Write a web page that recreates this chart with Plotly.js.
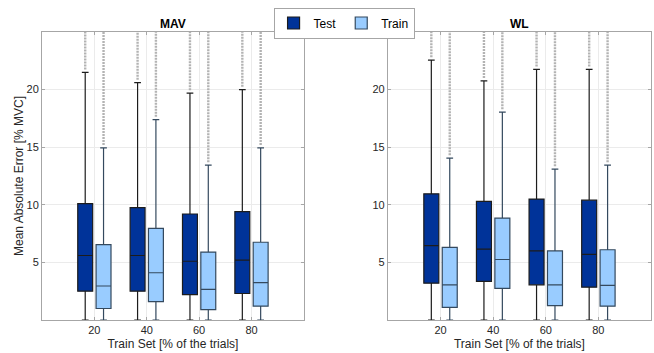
<!DOCTYPE html>
<html>
<head>
<meta charset="utf-8">
<script src="https://cdn.plot.ly/plotly-3.0.1.min.js"></script>
<style>html,body{margin:0;padding:0;background:#fff;}#chart{width:654px;height:353px;}</style>
</head>
<body>
<div id="chart"></div>
<script>
// ---- data ----
const trainSet = [20, 40, 60, 80];

// MAV panel
const mavTestQ1 = [2.5, 2.5, 2.2, 2.3];
const mavTestMedian = [5.6, 5.6, 5.1, 5.2];
const mavTestQ3 = [10.1, 9.75, 9.2, 9.4];
const mavTestLow = [0, 0, 0, 0];
const mavTestUp = [21.5, 20.6, 19.7, 20.0];
const mavTestOutMax = [26, 26, 26, 26];

const mavTrainQ1 = [1.0, 1.6, 0.9, 1.2];
const mavTrainMedian = [2.95, 4.1, 2.65, 3.25];
const mavTrainQ3 = [6.55, 7.95, 5.9, 6.75];
const mavTrainLow = [0, 0, 0, 0];
const mavTrainUp = [14.95, 17.4, 13.45, 14.95];
const mavTrainOutMax = [26, 26, 26, 26];

// WL panel
const wlTestQ1 = [3.2, 3.35, 3.05, 2.85];
const wlTestMedian = [6.45, 6.15, 6.0, 5.7];
const wlTestQ3 = [10.95, 10.3, 10.5, 10.4];
const wlTestLow = [0, 0, 0, 0];
const wlTestUp = [22.55, 20.75, 21.75, 21.75];
const wlTestOutMax = [26, 26, 26, 26];

const wlTrainQ1 = [1.1, 2.75, 1.25, 1.2];
const wlTrainMedian = [3.05, 5.25, 3.05, 3.0];
const wlTrainQ3 = [6.3, 8.85, 6.0, 6.1];
const wlTrainLow = [0, 0, 0, 0];
const wlTrainUp = [14.05, 18.05, 13.1, 13.45];
const wlTrainOutMax = [26, 26, 26, 26];

const xTicks = [20, 40, 60, 80];
const yTicks = [5, 10, 15, 20];

// ---- style ----
const TEST_FILL = '#003399';
const TRAIN_FILL = '#99CCFF';
const OFFSET = 3.5;     // group offset from tick position (data units)
const BOX_W = 5.7;      // box width (data units)
const FONT = 'Liberation Sans, Arial, sans-serif';

function boxTrace(name, q1, med, q3, lo, up, fill, lineColor, sign, xa, ya, showLegend) {
  return {
    type: 'box', name: name, x: trainSet.map(p => p + sign * OFFSET), width: BOX_W,
    q1: q1, median: med, q3: q3, lowerfence: lo, upperfence: up,
    fillcolor: fill, line: {color: lineColor, width: 1.2},
    whiskerwidth: 0.45, boxpoints: false,
    xaxis: xa, yaxis: ya, legendgroup: name, showlegend: showLegend,
    hoverinfo: 'skip'
  };
}
function outlierTraces(up, outMax, sign, xa, ya) {
  const xs = [], ys = [];
  trainSet.forEach((p, i) => {
    xs.push(p + sign * OFFSET, p + sign * OFFSET, null);
    ys.push(up[i] + 0.25, outMax[i], null);
  });
  return {
    type: 'scatter', mode: 'lines', x: xs, y: ys,
    line: {color: '#b3b3b3', width: 2.4, dash: '2px,1px'},
    xaxis: xa, yaxis: ya, showlegend: false, hoverinfo: 'skip'
  };
}

const data = [
  outlierTraces(mavTestUp, mavTestOutMax, -1, 'x', 'y'),
  outlierTraces(mavTrainUp, mavTrainOutMax, 1, 'x', 'y'),
  outlierTraces(wlTestUp, wlTestOutMax, -1, 'x2', 'y2'),
  outlierTraces(wlTrainUp, wlTrainOutMax, 1, 'x2', 'y2'),
  boxTrace('Test', mavTestQ1, mavTestMedian, mavTestQ3, mavTestLow, mavTestUp, TEST_FILL, '#1c1c1c', -1, 'x', 'y', true),
  boxTrace('Train', mavTrainQ1, mavTrainMedian, mavTrainQ3, mavTrainLow, mavTrainUp, TRAIN_FILL, '#34495e', 1, 'x', 'y', true),
  boxTrace('Test', wlTestQ1, wlTestMedian, wlTestQ3, wlTestLow, wlTestUp, TEST_FILL, '#1c1c1c', -1, 'x2', 'y2', false),
  boxTrace('Train', wlTrainQ1, wlTrainMedian, wlTrainQ3, wlTrainLow, wlTrainUp, TRAIN_FILL, '#34495e', 1, 'x2', 'y2', false)
];

const axisCommon = {
  showline: true, linecolor: '#a6a6a6', linewidth: 1, mirror: 'ticks',
  ticks: 'inside', ticklen: 3, tickcolor: '#a6a6a6',
  showgrid: true, gridcolor: '#ebebeb', gridwidth: 1, zeroline: false,
  tickfont: {family: FONT, size: 11, color: '#262626'}
};

const layout = {
  width: 654, height: 353,
  margin: {l: 42, r: 3, t: 32, b: 33},
  paper_bgcolor: '#ffffff', plot_bgcolor: '#ffffff',
  boxmode: 'overlay',
  font: {family: FONT, color: '#262626'},
  xaxis: Object.assign({}, axisCommon, {
    domain: [0, 0.43], range: [0, 100], tickvals: xTicks, ticktext: xTicks.map(String),
    title: {text: 'Train Set [% of the trials]', font: {family: FONT, size: 12, color: '#262626'}, standoff: 4}
  }),
  yaxis: Object.assign({}, axisCommon, {
    range: [0, 25], tickvals: yTicks, ticktext: yTicks.map(String),
    title: {text: 'Mean Absolute Error [% MVC]', font: {family: FONT, size: 12, color: '#262626'}, standoff: 0}
  }),
  xaxis2: Object.assign({}, axisCommon, {
    domain: [0.568, 1], range: [0, 100], anchor: 'y2', tickvals: xTicks, ticktext: xTicks.map(String),
    title: {text: 'Train Set [% of the trials]', font: {family: FONT, size: 12, color: '#262626'}, standoff: 4}
  }),
  yaxis2: Object.assign({}, axisCommon, {
    range: [0, 25], anchor: 'x2', tickvals: yTicks, ticktext: yTicks.map(String)
  }),
  legend: {
    orientation: 'h', x: 0.496, xanchor: 'center', y: 1.085, yanchor: 'top',
    bgcolor: '#ffffff', bordercolor: '#a6a6a6', borderwidth: 1,
    font: {family: FONT, size: 12, color: '#000'},
    itemwidth: 30, tracegroupgap: 0
  },
  annotations: [
    {text: '<b>MAV</b>', xref: 'x domain', yref: 'paper', x: 0.5, y: 0.998, yanchor: 'bottom', showarrow: false,
     font: {family: FONT, size: 12, color: '#000'}},
    {text: '<b>WL</b>', xref: 'x2 domain', yref: 'paper', x: 0.5, y: 0.998, yanchor: 'bottom', showarrow: false,
     font: {family: FONT, size: 12, color: '#000'}}
  ]
};

Plotly.newPlot('chart', data, layout, {displayModeBar: false, staticPlot: true});
</script>
</body>
</html>
